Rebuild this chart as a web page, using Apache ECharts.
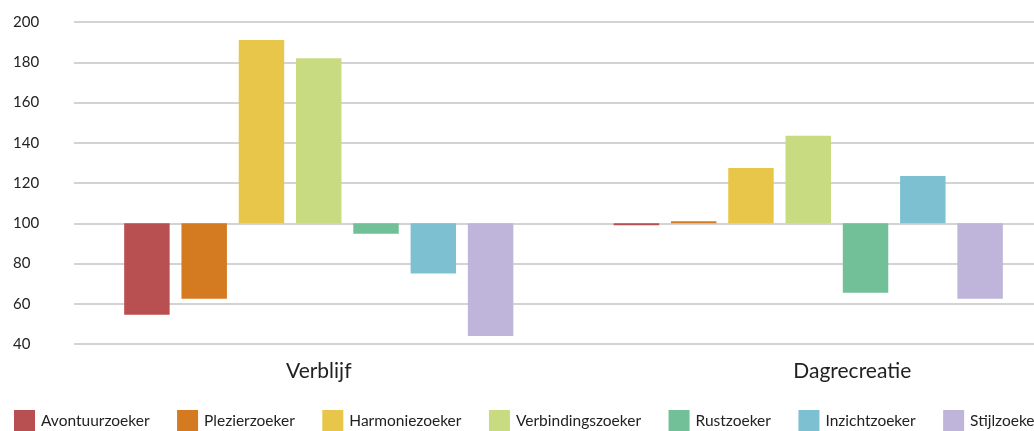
<!DOCTYPE html>
<html>
<head>
<meta charset="utf-8">
<script src="https://cdn.jsdelivr.net/npm/echarts@6/dist/echarts.min.js"></script>
<style>html,body{margin:0;padding:0;background:#fff;overflow:hidden;width:1034px;height:431px}#c{width:1053px;height:431px}</style>
</head>
<body>
<div id="c"></div>
<script>
const categories = ['Verblijf', 'Dagrecreatie'];
const seriesNames = ['Avontuurzoeker', 'Plezierzoeker', 'Harmoniezoeker', 'Verbindingszoeker', 'Rustzoeker', 'Inzichtzoeker', 'Stijlzoeker'];
const avontuurzoeker = [54.5, 99];
const plezierzoeker = [62.5, 101];
const harmoniezoeker = [191, 127.5];
const verbindingszoeker = [182, 143.5];
const rustzoeker = [94.8, 65.5];
const inzichtzoeker = [75, 123.5];
const stijlzoeker = [44, 62.5];
const colors = ['#b84f50', '#d47b22', '#e8c64a', '#c8db80', '#72c098', '#7dc0d2', '#bfb4da'];
const baseline = 100;
const yMin = 40, yMax = 200, yStep = 20;

const values = [avontuurzoeker, plezierzoeker, harmoniezoeker, verbindingszoeker, rustzoeker, inzichtzoeker, stijlzoeker];
const font = 'Lato, "Open Sans", sans-serif';

const chart = echarts.init(document.getElementById('c'), null, {renderer: 'canvas'});
chart.setOption({
  animation: false,
  color: colors,
  textStyle: {fontFamily: font},
  grid: {left: 74, right: 0, top: 22, bottom: 87, containLabel: false},
  legend: {
    left: 14, top: 410, width: 1300, padding: 0,
    itemWidth: 21, itemHeight: 21, itemGap: 27.5,
    icon: 'rect',
    textStyle: {fontSize: 15.5, color: '#222', fontFamily: font, padding: [5, 0, 0, 1]},
    data: seriesNames
  },
  xAxis: {
    type: 'category', data: categories,
    axisLine: {show: false}, axisTick: {show: false},
    axisLabel: {
      margin: 17, fontSize: 21, color: '#222', fontFamily: font,
      formatter: function (v, i) { return i === 1 ? '{b|' + v + '}' : '{a|' + v + '}'; },
      rich: {a: {fontSize: 21, color: '#222', fontFamily: font}, b: {fontSize: 21, color: '#222', fontFamily: font, padding: [0, 0, 0, 88]}}
    }
  },
  yAxis: {
    type: 'value', min: yMin - baseline, max: yMax - baseline, interval: yStep,
    axisLine: {show: false}, axisTick: {show: false},
    axisLabel: {align: 'left', margin: 61, fontSize: 15, color: '#222', fontFamily: font,
      formatter: function (v) { return String(v + baseline); }},
    splitLine: {lineStyle: {color: '#c4c4c4', width: 1.5}}
  },
  series: seriesNames.map(function (name, i) {
    return {
      name: name, type: 'bar',
      barCategoryGap: '20.5%', barGap: '26%',
      data: values[i].map(function (v) { return v - baseline; })
    };
  })
});
</script>
</body>
</html>
